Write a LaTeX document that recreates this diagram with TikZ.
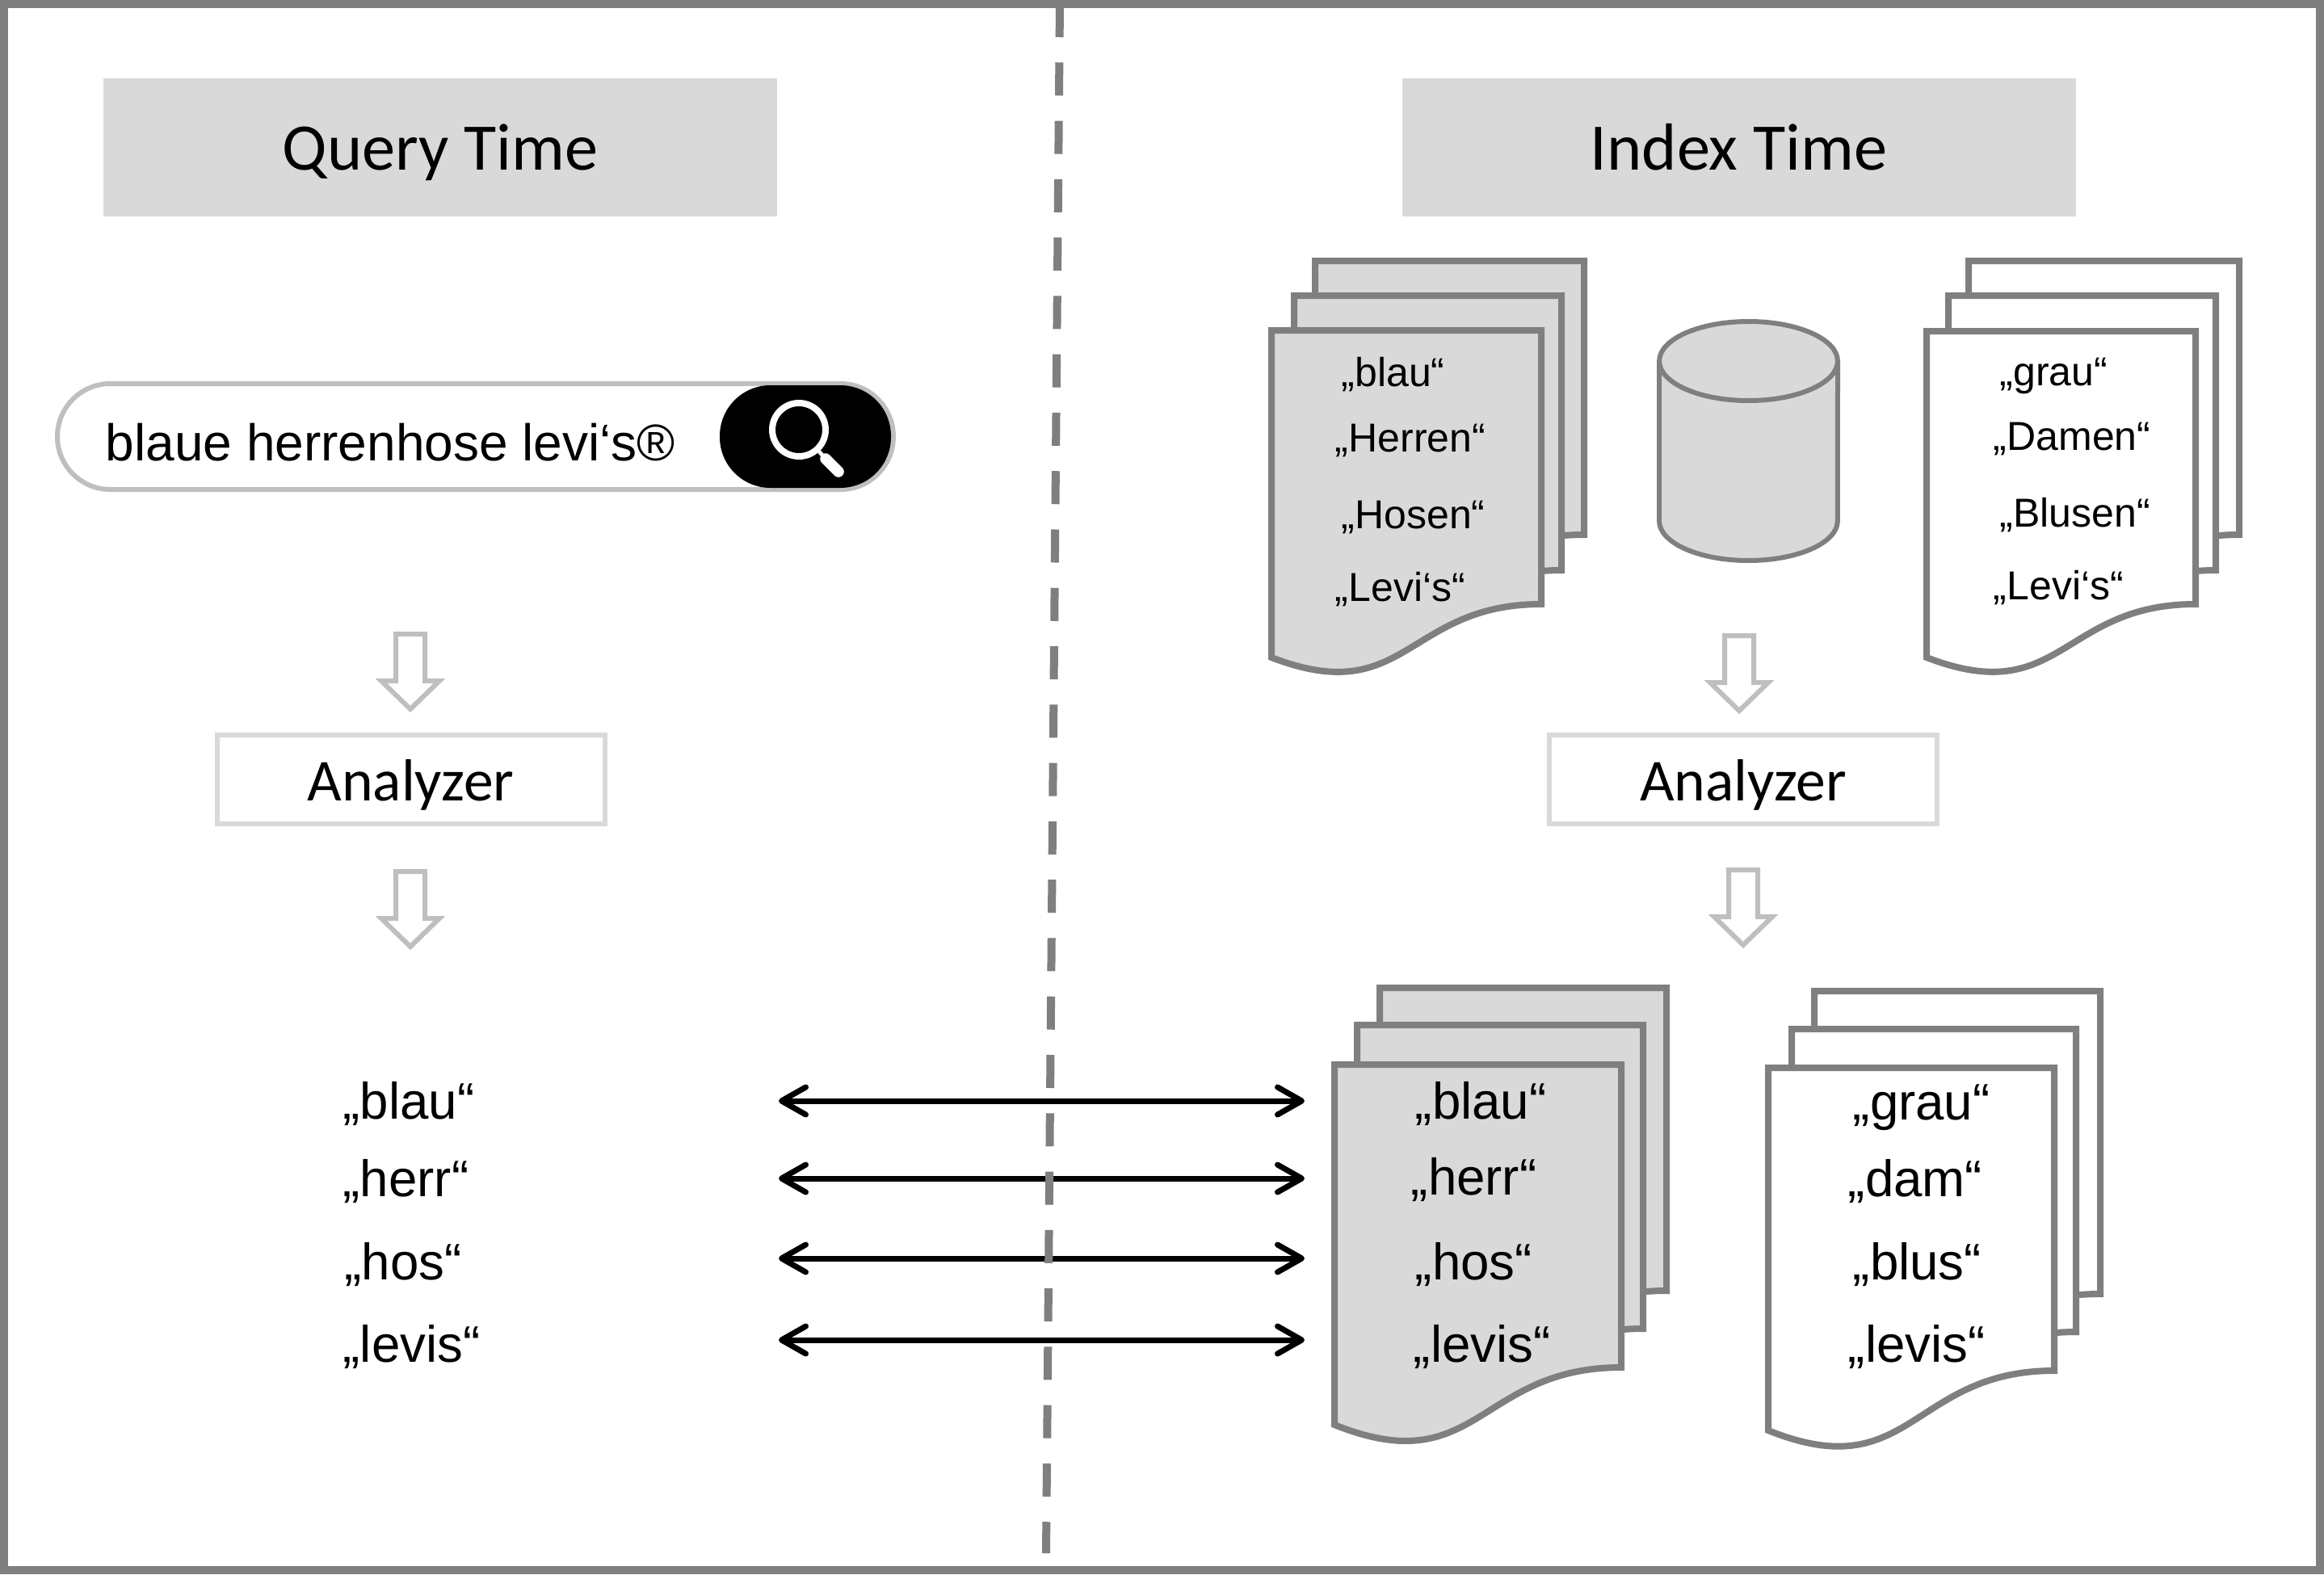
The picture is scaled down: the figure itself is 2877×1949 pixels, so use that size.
\documentclass[tikz,border=0pt]{standalone}
\usepackage{fontspec}
\setmainfont{Liberation Sans}
\newfontfamily\calib{Carlito}
\usetikzlibrary{arrows.meta}
\definecolor{edgegray}{HTML}{7F7F7F}
\definecolor{panelgray}{HTML}{D9D9D9}
\definecolor{softgray}{HTML}{BFBFBF}
\tikzset{
  x=0.25pt,y=-0.25pt,
  pagesheet/.style={draw=edgegray,line width=2pt,line join=miter},
  header/.style={fill=panelgray,draw=none,inner sep=0pt,text height=17.5pt,text depth=3.5pt,font=\calib\fontsize{20.6}{24}\selectfont},
  analyzerbox/.style={draw=panelgray,line width=1.5pt,fill=white,inner sep=0pt,text height=15pt,text depth=2pt,font=\calib\fontsize{18.4}{22}\selectfont},
  hollow/.style={draw=softgray,line width=1.5pt,fill=white,line join=miter},
  termbig/.style={anchor=base west,inner sep=0pt,yshift=0.5pt,font=\fontsize{15.9}{19}\selectfont},
  termsmall/.style={anchor=base west,inner sep=0pt,yshift=0.5pt,font=\fontsize{12.5}{15}\selectfont},
  match/.style={{Straight Barb[length=7.5pt,width=8.5pt,line width=1.75pt,round]}-{Straight Barb[length=7.5pt,width=8.5pt,line width=1.75pt,round]},line width=1.75pt,black},
}
% fill, left, right, top, y of right end, y of left end
\newcommand{\sheet}[6]{%
  \pgfmathsetmacro{\xm}{(#2+#3)/2}
  \pgfmathsetmacro{\cy}{#6+(#5-#4)*0.19}
  \path[pagesheet,fill=#1] (#2,#4) -- (#3,#4) -- (#3,#5) .. controls (\xm,#5) and (\xm,\cy) .. (#2,#6) -- cycle;
}
\newcommand{\hollowdown}[2]{%
  \pgfmathsetmacro{\xa}{#1-18}\pgfmathsetmacro{\xb}{#1+18}
  \pgfmathsetmacro{\xc}{#1-36}\pgfmathsetmacro{\xd}{#1+36}
  \pgfmathsetmacro{\ya}{#2+58}\pgfmathsetmacro{\yb}{#2+93}
  \path[hollow] (\xa,#2) -- (\xb,#2) -- (\xb,\ya) -- (\xd,\ya) -- (#1,\yb) -- (\xc,\ya) -- (\xa,\ya) -- cycle;
}
\begin{document}
\begin{tikzpicture}
\useasboundingbox (0,0) rectangle (2877,1949);
\fill[white] (0,0) rectangle (2877,1949);
\begin{scope}[yshift=-0.5pt]
% headers
\node[header,minimum width=208.5pt,minimum height=42.75pt] (qt) at (545,180.5) {Query Time};
\node[header,minimum width=208.5pt,minimum height=42.75pt] (it) at (2152.5,180.5) {Index Time};
% search bar
\draw[softgray,line width=1.5pt,fill=white,rounded corners=16.4pt] (71,473) rectangle (1106,604);
\fill[black,rounded corners=15.7pt] (891,475) rectangle (1103,602);
\node[termbig,font=\fontsize{16}{19}\selectfont] (query) at (130,570) {blaue herrenhose levi‘s®};
\draw[white,line width=2pt] (989,530) circle [radius=33];
\draw[white,line width=1.2pt] (1013,556) -- (1022,566);
\draw[white,line width=3.4pt,line cap=round] (1022,566) -- (1038,582);
% arrows and analyzers
\hollowdown{508}{783}
\node[analyzerbox,minimum width=120pt,minimum height=27.5pt] (anl) at (508.5,963) {Analyzer};
\hollowdown{508}{1077}
\hollowdown{2153}{785}
\node[analyzerbox,minimum width=120pt,minimum height=27.5pt] (anr) at (2158,963) {Analyzer};
\hollowdown{2158}{1075}
% top document stacks
\sheet{panelgray}{1628}{1961}{321}{660}{726}
\sheet{panelgray}{1602}{1933}{364}{704}{770}
\sheet{panelgray}{1574}{1908}{407}{746}{812}
\sheet{white}{2437}{2772}{321}{660}{726}
\sheet{white}{2412}{2743}{364}{704}{770}
\sheet{white}{2385}{2718}{408}{746}{812}
\node[termsmall] (t1) at (1660,478) {„blau“};
\node[termsmall] (t2) at (1652,559) {„Herren“};
\node[termsmall] (t3) at (1660,654) {„Hosen“};
\node[termsmall] (t4) at (1652,744) {„Levi‘s“};
\node[termsmall] (t5) at (2475,477) {„grau“};
\node[termsmall] (t6) at (2467,557) {„Damen“};
\node[termsmall] (t7) at (2475,652) {„Blusen“};
\node[termsmall] (t8) at (2467,742) {„Levi‘s“};
% cylinder
\path[draw=edgegray,line width=1.5pt,fill=panelgray] (2054,445) -- (2054,643) arc[start angle=180,end angle=360,x radius=27.6pt,y radius=12.25pt] -- (2275,445);
\path[draw=edgegray,line width=1.5pt,fill=panelgray] (2164.5,445) ellipse [x radius=27.6pt,y radius=12.25pt];
% bottom document stacks
\sheet{panelgray}{1708}{2063}{1221}{1596}{1667}
\sheet{panelgray}{1680}{2034}{1267}{1643}{1713}
\sheet{panelgray}{1652}{2007}{1316}{1691}{1762}
\sheet{white}{2246}{2600}{1225}{1600}{1674}
\sheet{white}{2218}{2570}{1272}{1647}{1721}
\sheet{white}{2189}{2543}{1320}{1695}{1769}
\node[termbig] (d1) at (1751,1385) {„blau“};
\node[termbig] (d2) at (1746,1479) {„herr“};
\node[termbig] (d3) at (1751,1584) {„hos“};
\node[termbig] (d4) at (1749,1686) {„levis“};
\node[termbig] (w1) at (2293,1386) {„grau“};
\node[termbig] (w2) at (2287,1481) {„dam“};
\node[termbig] (w3) at (2293,1584) {„blus“};
\node[termbig] (w4) at (2287,1686) {„levis“};
% query terms
\node[termbig] (q1) at (424,1385) {„blau“};
\node[termbig] (q2) at (424,1481) {„herr“};
\node[termbig] (q3) at (426,1584) {„hos“};
\node[termbig] (q4) at (424,1686) {„levis“};
% matches
\coordinate (la) at (964,1361); \coordinate (ra) at (1615,1361);
\coordinate (lb) at (964,1457); \coordinate (rb) at (1615,1457);
\coordinate (lc) at (964,1556); \coordinate (rc) at (1615,1556);
\coordinate (ld) at (964,1657); \coordinate (rd) at (1615,1657);
\draw[match] (la) -- (ra);
\draw[match] (lb) -- (rb);
\draw[match] (lc) -- (rc);
\draw[match] (ld) -- (rd);
\end{scope}
% divider
\coordinate (divtop) at (1312,5);
\coordinate (divbot) at (1295,1923);
\draw[edgegray,line width=2.5pt,dash pattern=on 10.25pt off 7.82pt] (divtop) -- (divbot);
% frame
\draw[edgegray,line width=2.5pt] (5,5) rectangle (2872,1944);
\end{tikzpicture}
\end{document}
